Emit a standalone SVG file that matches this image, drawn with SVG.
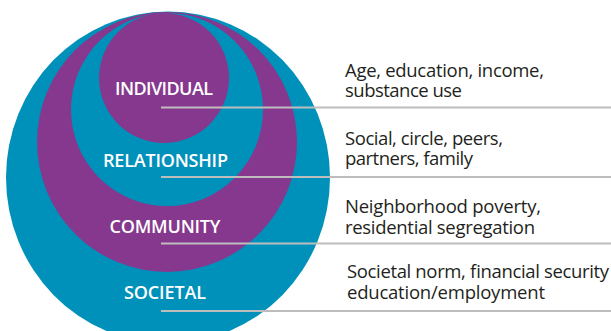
<svg xmlns="http://www.w3.org/2000/svg" width="611" height="331" viewBox="0 0 611 331">
<style>
.teal{fill:#0091bb}
.purple{fill:#85388d}
.lbl{font-family:"Open Sans","Noto Sans","Liberation Sans",sans-serif;font-weight:600;font-size:18px;fill:#ffffff;text-anchor:middle}
.desc{font-family:"Open Sans","Noto Sans","Liberation Sans",sans-serif;font-weight:400;font-size:18.5px;fill:#231f20}
.conn{stroke:#bdbdbd;stroke-width:2;fill:none}
</style>
<rect width="611" height="331" fill="#ffffff"/>
<g id="societal">
<ellipse class="teal" cx="168" cy="177.5" rx="162" ry="166"/>
<text class="lbl" x="165" y="299" textLength="82">SOCIETAL</text>
<text class="desc" x="347" y="278" textLength="262">Societal norm, financial security</text>
<text class="desc" x="347" y="299" textLength="198">education/employment</text>
</g>
<g id="community">
<ellipse class="purple" cx="167" cy="142" rx="130" ry="130"/>
<text class="lbl" x="165" y="233" textLength="111">COMMUNITY</text>
<text class="desc" x="345" y="213" textLength="196">Neighborhood poverty,</text>
<text class="desc" x="345" y="234" textLength="190">residential segregation</text>
</g>
<g id="relationship">
<ellipse class="teal" cx="167" cy="109.5" rx="96" ry="96.5"/>
<text class="lbl" x="165.5" y="167" textLength="125">RELATIONSHIP</text>
<text class="desc" x="345" y="145" textLength="158">Social, circle, peers,</text>
<text class="desc" x="345" y="165" textLength="128">partners, family</text>
</g>
<g id="individual">
<ellipse class="purple" cx="164" cy="78" rx="65" ry="65"/>
<text class="lbl" x="164" y="95" textLength="98">INDIVIDUAL</text>
<text class="desc" x="345" y="76.5" textLength="199">Age, education, income,</text>
<text class="desc" x="345" y="96.5" textLength="117">substance use</text>
</g>
<g id="connectors">
<line class="conn" x1="161" y1="107.5" x2="611" y2="107.5"/>
<line class="conn" x1="161" y1="177" x2="611" y2="177"/>
<line class="conn" x1="161" y1="243.5" x2="611" y2="243.5"/>
<line class="conn" x1="161" y1="311" x2="611" y2="311"/>
</g>
</svg>
